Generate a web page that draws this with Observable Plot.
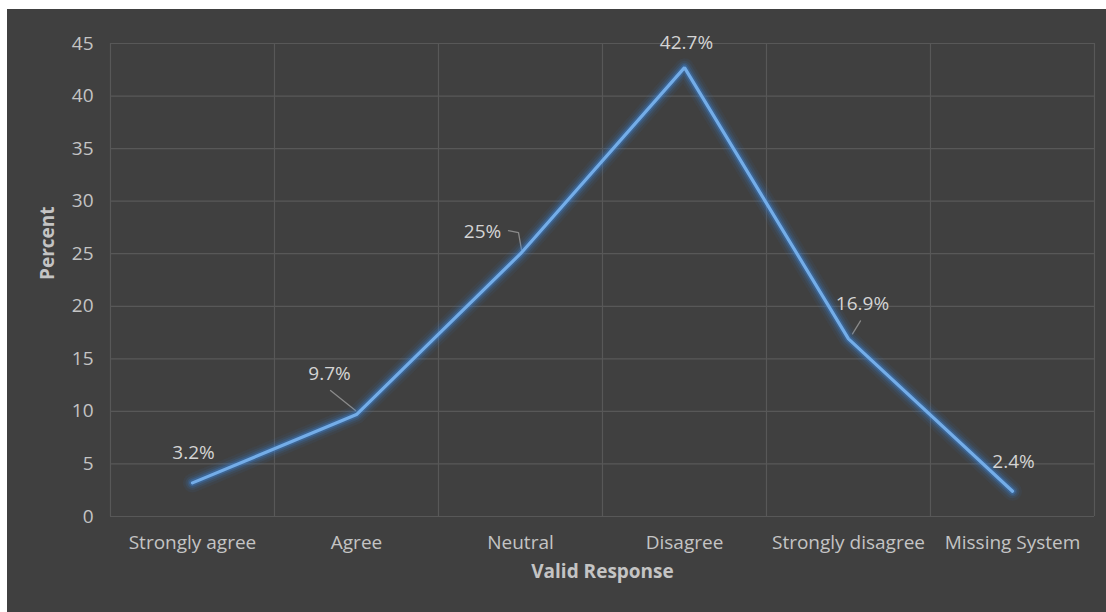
<!DOCTYPE html>
<html>
<head>
<meta charset="utf-8">
<script src="https://cdn.jsdelivr.net/npm/d3@7"></script>
<script src="https://cdn.jsdelivr.net/npm/@observablehq/plot@0.6"></script>
<style>
  html, body { margin: 0; padding: 0; background: #ffffff; }
  #chart { position: absolute; left: 7px; top: 9px; width: 1099px; height: 603px; background: #404040; }
  #chart svg { display: block; }
</style>
</head>
<body>
<div id="chart"></div>
<script>
// Survey responses and their share of respondents (%)
const categories = ["Strongly agree", "Agree", "Neutral", "Disagree", "Strongly disagree", "Missing System"];
const percents = [3.2, 9.7, 25, 42.7, 16.9, 2.4];
const yTicks = [0, 5, 10, 15, 20, 25, 30, 35, 40, 45];

// Layout
const width = 1099, height = 603;
const marginLeft = 103, marginRight = 12, marginTop = 34, marginBottom = 96;
const yMax = 45;
const kx = (width - marginLeft - marginRight) / categories.length; // px per category
const ky = (height - marginTop - marginBottom) / yMax;              // px per percent

// Value label placement, in pixels from each point
const labelOffset = [[1, -30], [-27, -41], [-38, -22], [2, -25], [14, -35], [1, -29]];
// Leader lines joining a few labels to their points, in pixels from the point
const leaders = [
  {i: 1, path: [[-26, -24], [-1, -4]]},
  {i: 2, path: [[-12, -23], [-2, -21], [1, -4]]},
  {i: 4, path: [[12, -18], [4, -5]]}
];

const points = categories.map((c, i) => ({i, category: c, value: percents[i]}));
const xPos = (i, dx = 0) => i + 0.5 + dx / kx;
const yPos = (v, dy = 0) => v - dy / ky;

const leaderPts = leaders.flatMap(({i, path}) =>
  path.map(([dx, dy]) => ({key: i, x: xPos(i, dx), y: yPos(percents[i], dy)})));

// Soft glow: stacked translucent strokes under the series line
const glowLayers = [[19, 0.06], [14, 0.1], [10, 0.16], [6.5, 0.3]];
const seriesX = (d) => xPos(d.i);

const plot = Plot.plot({
  width, height, marginLeft, marginRight, marginTop, marginBottom,
  style: {background: "#404040", color: "#c4c4c4", fontFamily: "'Open Sans', Lato, sans-serif", fontSize: "19px"},
  x: {domain: [0, categories.length]},
  y: {domain: [0, yMax]},
  marks: [
    Plot.gridY({ticks: yTicks, stroke: "#585858", strokeOpacity: 1, strokeWidth: 1.2}),
    Plot.gridX({ticks: d3.range(categories.length + 1), stroke: "#585858", strokeOpacity: 1, strokeWidth: 1.2}),
    Plot.axisY({ticks: yTicks, tickSize: 0, tickPadding: 17, label: null}),
    Plot.axisX({
      ticks: categories.map((_, i) => i + 0.5),
      tickFormat: (d) => categories[Math.floor(d)],
      tickSize: 0, tickPadding: 19, label: null
    }),
    Plot.text(["Percent"], {frameAnchor: "left", dx: -63, rotate: -90, fontWeight: "bold", fontSize: 19, fill: "#c4c4c4"}),
    Plot.text(["Valid Response"], {frameAnchor: "bottom", dy: 61, fontWeight: "bold", fontSize: 19, fill: "#c4c4c4"}),
    // leader lines
    Plot.line(leaderPts, {x: "x", y: "y", z: "key", stroke: "#8a8a8a", strokeWidth: 1.3}),
    ...glowLayers.map(([w, o]) =>
      Plot.line(points, {x: seriesX, y: "value", stroke: "#3a8ae6", strokeWidth: w, strokeOpacity: o, strokeLinejoin: "round", strokeLinecap: "round"})),
    Plot.line(points, {x: seriesX, y: "value", stroke: "#74ade8", strokeWidth: 3.2, strokeLinejoin: "miter"}),
    Plot.text(points, {
      x: (d) => xPos(d.i, labelOffset[d.i][0]),
      y: (d) => yPos(d.value, labelOffset[d.i][1]),
      text: (d) => `${d.value}%`,
      fill: "#d4d4d4", fontSize: 19, lineAnchor: "middle", textAnchor: "middle"
    })
  ]
});

document.getElementById("chart").appendChild(plot);
</script>
</body>
</html>
